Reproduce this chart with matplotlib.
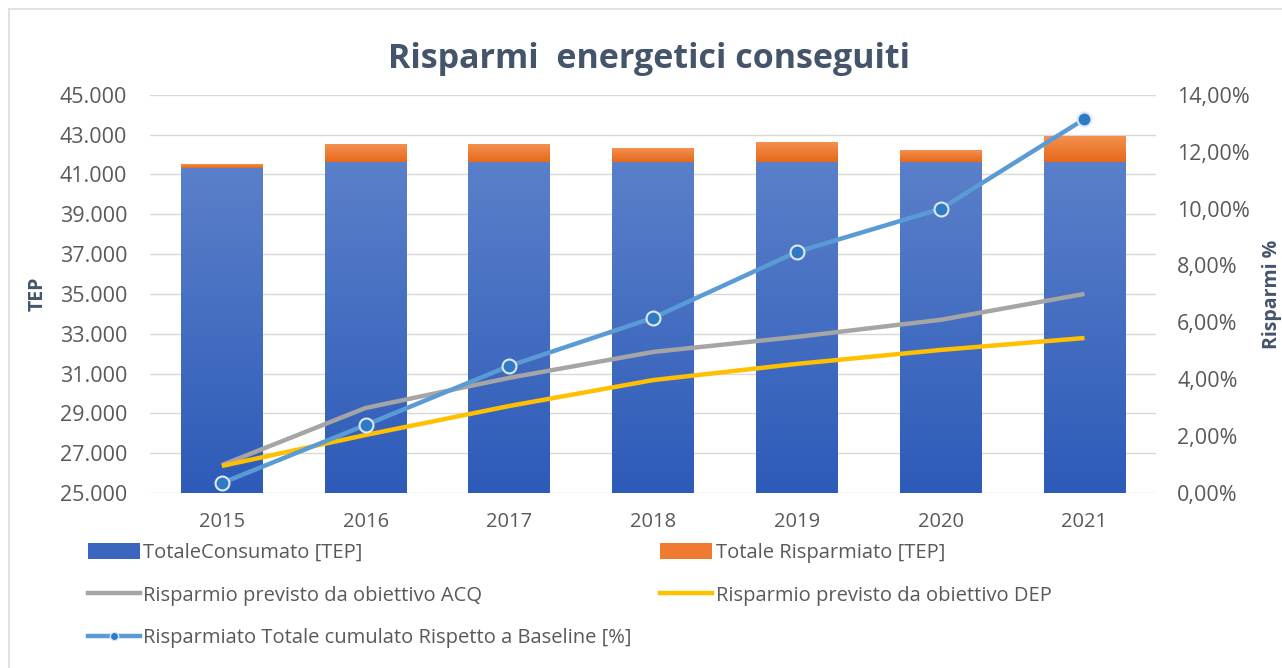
import matplotlib
matplotlib.use("Agg")
import matplotlib.pyplot as plt
import numpy as np
from matplotlib.colors import LinearSegmentedColormap
from matplotlib.lines import Line2D
from matplotlib.patches import Patch
from matplotlib.ticker import FuncFormatter

plt.rcParams['font.family'] = ['Open Sans', 'DejaVu Sans']

# data
anni = ['2015', '2016', '2017', '2018', '2019', '2020', '2021']
consumato = [41350, 41630, 41630, 41630, 41630, 41630, 41630]
risparmiato = [200, 900, 900, 690, 990, 570, 1290]
obiettivo_acq = [0.98, 2.99, 4.05, 4.96, 5.49, 6.09, 7.00]
obiettivo_dep = [0.95, 2.04, 3.06, 3.97, 4.54, 5.03, 5.45]
cumulato = [0.35, 2.39, 4.47, 6.16, 8.48, 9.99, 13.15]

txt = '#595959'
blu_cmap = LinearSegmentedColormap.from_list('blu', ['#2D5BB8', '#5B80CA'])
ara_cmap = LinearSegmentedColormap.from_list('ara', ['#E5691B', '#F4904E'])

fig = plt.figure(figsize=(12.82, 6.68), dpi=100)
ax = fig.add_axes([0.117, 0.262, 0.785, 0.596])
ax2 = ax.twinx()

ymin, ymax = 25000, 45000
x = np.arange(len(anni))
w = 0.57
b1 = ax.bar(x, consumato, w, color='none', edgecolor='none')
b2 = ax.bar(x, risparmiato, w, bottom=consumato, color='none', edgecolor='none')

# gradient fill for each bar, limited to the visible part
grad = np.linspace(0, 1, 256).reshape(-1, 1)
for bars, cmap in ((b1, blu_cmap), (b2, ara_cmap)):
    for p in bars:
        x0 = p.get_x()
        y0 = max(p.get_y(), ymin)
        y1 = p.get_y() + p.get_height()
        ax.imshow(grad, extent=[x0, x0 + p.get_width(), y0, y1],
                  origin='lower', aspect='auto', cmap=cmap, zorder=2)

ax.set_xlim(-0.5, len(anni) - 0.5)
ax.set_ylim(ymin, ymax)
ax.set_yticks(np.arange(ymin, ymax + 1, 2000))
ax.yaxis.set_major_formatter(FuncFormatter(lambda v, _: f'{v:,.0f}'.replace(',', '.')))
ax.set_xticks(x)
ax.set_xticklabels(anni)
ax.grid(axis='y', color='#D9D9D9', linewidth=1, zorder=0)
ax.set_axisbelow(True)

ax2.plot(x, obiettivo_acq, color='#A5A5A5', linewidth=3.2, solid_capstyle='butt', zorder=3)
ax2.plot(x, obiettivo_dep, color='#FFC000', linewidth=3.2, solid_capstyle='butt', zorder=3)
ax2.plot(x, cumulato, color='#5B9BD5', linewidth=3.2, marker='o', markersize=10,
         markerfacecolor='#2E7AC4', markeredgecolor='#DDE8F4', markeredgewidth=1.5, zorder=4)
ax2.set_ylim(0, 14)
ax2.set_yticks(np.arange(0, 14.1, 2))
ax2.yaxis.set_major_formatter(FuncFormatter(lambda v, _: f'{v:.2f}%'.replace('.', ',')))

for a in (ax, ax2):
    for s in a.spines.values():
        s.set_visible(False)
    a.tick_params(length=0, labelcolor=txt)
    a.tick_params(axis='y', labelsize=15.5)
ax.tick_params(axis='x', labelsize=14.5, pad=14)
for t in ax.yaxis.get_major_ticks():
    t.set_pad(16.5)
for t in ax2.yaxis.get_major_ticks():
    t.set_pad(15)

ax.set_ylabel('TEP', fontsize=14, fontweight='bold', color='#44546A')
ax.yaxis.set_label_coords(-0.102, 0.5)
ax2.set_ylabel('Risparmi %', fontsize=14, fontweight='bold', color='#44546A')
ax2.yaxis.set_label_coords(1.105, 0.5)

fig.text(0.506, 0.912, 'Risparmi  energetici conseguiti', ha='center', va='center',
         fontsize=24.5, fontweight='bold', color='#44546A')

# chart frame
fig.add_artist(Line2D([0.007, 0.007], [0.0, 0.987], color='#D9DDE6', linewidth=1.2))
fig.add_artist(Line2D([0.007, 1.0], [0.987, 0.987], color='#D9DDE6', linewidth=1.2))

handles = [
    Patch(facecolor='#3B66BF'),
    Line2D([], [], color='#A5A5A5', linewidth=3.2),
    Line2D([], [], color='#5B9BD5', linewidth=3.2, marker='o', markersize=6,
           markerfacecolor='#2E7AC4', markeredgecolor='#DDE8F4'),
    Patch(facecolor='#EE7B30'),
    Line2D([], [], color='#FFC000', linewidth=3.2),
]
labels = [
    'TotaleConsumato [TEP]',
    'Risparmio previsto da obiettivo ACQ',
    'Risparmiato Totale cumulato Rispetto a Baseline [%]',
    'Totale Risparmiato [TEP]',
    'Risparmio previsto da obiettivo DEP',
]
fig.legend(handles, labels, ncol=2, loc='upper left', bbox_to_anchor=(0.0624, 0.199),
           frameon=False, fontsize=14.5, labelcolor=txt, handlelength=2.6,
           handleheight=0.8, handletextpad=0.15, labelspacing=1.12, columnspacing=1.4,
           borderaxespad=0)

fig.savefig('out.png', dpi=100)
